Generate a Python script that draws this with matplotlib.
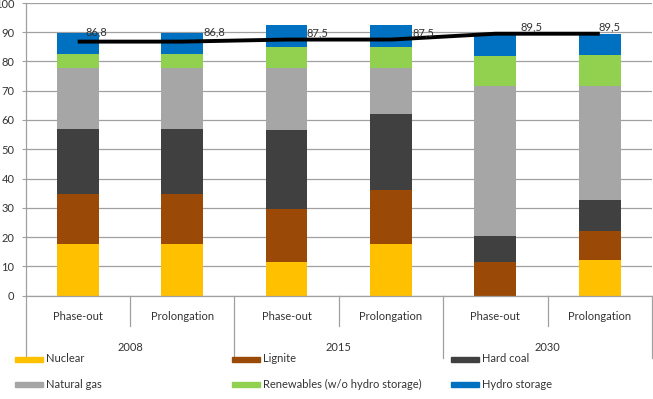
import matplotlib
matplotlib.use("Agg")
import matplotlib.pyplot as plt
from matplotlib.patches import Rectangle
import numpy as np

plt.rcParams['font.family'] = ['Lato', 'DejaVu Sans']

scenarios = ["Phase-out", "Prolongation", "Phase-out", "Prolongation", "Phase-out", "Prolongation"]
years = ["2008", "2015", "2030"]
series_names = ["Nuclear", "Lignite", "Hard coal", "Natural gas",
                "Renewables (w/o hydro storage)", "Hydro storage"]
nuclear = [17.7, 17.7, 11.6, 17.7, 0.0, 12.3]
lignite = [17.1, 17.1, 17.9, 18.3, 11.4, 9.6]
hard_coal = [22.0, 22.0, 27.0, 25.9, 9.1, 10.6]
natural_gas = [20.9, 20.9, 21.4, 16.0, 51.2, 39.2]
renewables = [4.7, 4.7, 6.9, 7.1, 10.1, 10.5]
hydro_storage = [7.4, 7.4, 7.7, 7.5, 7.6, 7.2]
demand = [86.8, 86.8, 87.5, 87.5, 89.5, 89.5]
demand_labels = ["86,8", "86,8", "87,5", "87,5", "89,5", "89,5"]

colors = ["#FFC000", "#9A4A06", "#404040", "#A6A6A6", "#92D050", "#0070C0"]
label_dx = [19, 32, 31, 32, 36, 10]   # pixel offsets of the value labels
label_dy = [10, 10, 7, 7, 7, 7]

W, H = 653, 399
fig = plt.figure(figsize=(W / 100, H / 100), dpi=100)
ax = fig.add_axes([25.5 / W, 1 - 295.5 / H, 626.5 / W, 292.5 / H])

x = np.arange(len(scenarios))
series = [nuclear, lignite, hard_coal, natural_gas, renewables, hydro_storage]
bottom = np.zeros(len(x))
for vals, c in zip(series, colors):
    ax.bar(x, vals, width=0.4, bottom=bottom, color=c, zorder=2)
    bottom += np.array(vals)

ax.plot(x, demand, color="black", lw=2.8, zorder=3, solid_capstyle="butt")
for xi, v, lab, dx, dy in zip(x, demand, demand_labels, label_dx, label_dy):
    ax.annotate(lab, (xi, v), xytext=(dx, dy), textcoords="offset pixels",
                ha="center", va="center", fontsize=8, color="#333333", zorder=4)

ax.set_xlim(-0.5, len(x) - 0.5)
ax.set_ylim(0, 100)
ax.set_yticks(np.arange(0, 101, 10))
ax.yaxis.grid(True, color="#A0A0A0", lw=0.9, zorder=0)
ax.tick_params(axis="y", length=3, color="#A0A0A0", labelsize=8, labelcolor="#333333", pad=5)
for s in ["top", "right"]:
    ax.spines[s].set_visible(False)
for s in ["left", "bottom"]:
    ax.spines[s].set_color("#A0A0A0")
    ax.spines[s].set_linewidth(0.9)

ax.set_xticks(x)
ax.set_xticklabels(scenarios, fontsize=8, color="#333333")
ax.tick_params(axis="x", length=0, pad=11)

trans = ax.get_xaxis_transform()
# short separators between scenarios, long separators between years
for b in np.arange(-0.5, len(x), 1.0):
    idx = int(b + 0.5)
    long_sep = idx % 2 == 0
    y_end = -62 / 292.5 if long_sep else -30 / 292.5
    ax.plot([b, b], [0, y_end], transform=trans, color="#A0A0A0", lw=0.9, clip_on=False)
for gi, yr in enumerate(years):
    ax.text(2 * gi + 0.5, -52 / 292.5, yr, transform=trans, ha="center", va="center",
            fontsize=8, color="#333333")

# legend
col_x = [15, 232, 451]
row_y = [359, 384.5]
for i, (name, c) in enumerate(zip(series_names, colors)):
    r, col = divmod(i, 3)
    px, py = col_x[col], row_y[r]
    fig.patches.append(Rectangle((px / W, 1 - (py + 2.5) / H), 27.5 / W, 5 / H,
                                 transform=fig.transFigure, color=c))
    fig.text((px + 31) / W, 1 - py / H, name, ha="left", va="center",
             fontsize=8, color="#333333")

fig.savefig("out.png", dpi=100)
